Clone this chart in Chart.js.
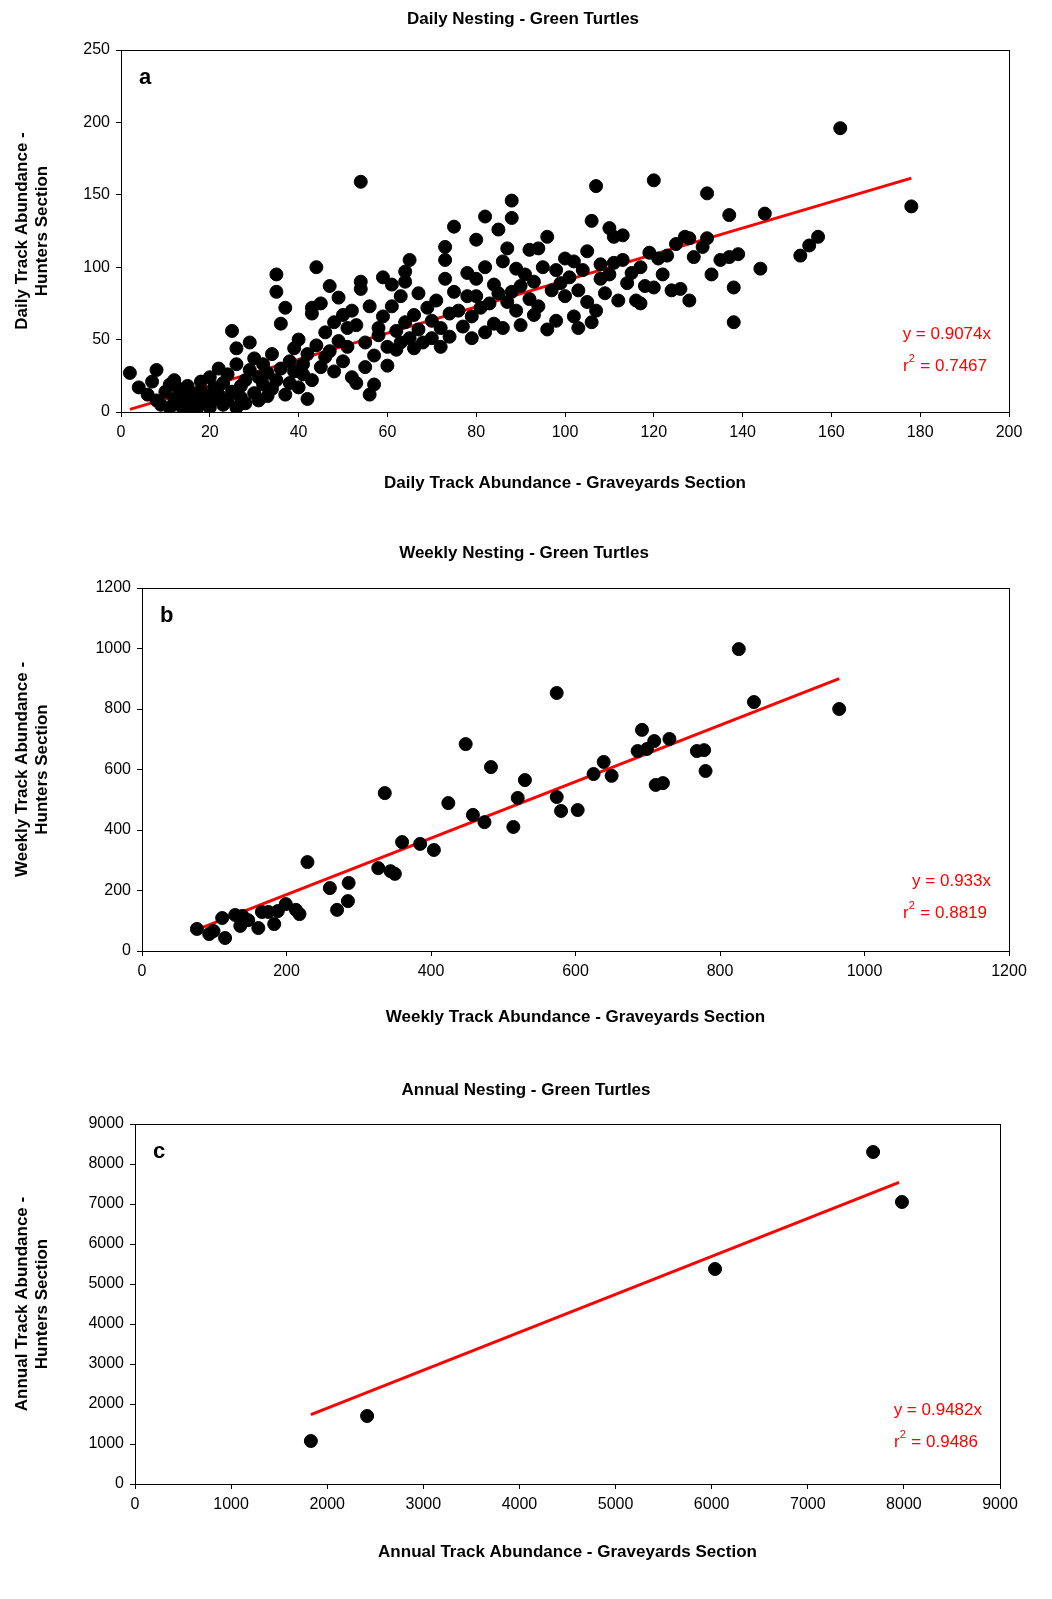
<!DOCTYPE html>
<html>
<head>
<meta charset="utf-8">
<script src="https://cdn.jsdelivr.net/npm/chart.js@4"></script>
<style>
  html, body { margin: 0; background: #fff; overflow: hidden; }
  .wrap { position: absolute; left: 0; width: 1052px; }
</style>
</head>
<body>
<div class="wrap" style="top:0;height:515px"><canvas id="chartA"></canvas></div>
<div class="wrap" style="top:530px;height:515px"><canvas id="chartB"></canvas></div>
<div class="wrap" style="top:1065px;height:534px"><canvas id="chartC"></canvas></div>
<script>
// Daily nesting (panel a): [graveyards, hunters]
const dailyPoints = [
  [2,27],[4,17],[6,12],[7,21],[8,29],[8,8],[9,5],[10,14],[11,19],[11,3],[12,9],[12,22],[13,16],[13,6],[14,11],[14,2],
  [15,18],[15,7],[16,4],[16,13],[17,1],[17,9],[18,15],[18,21],[19,6],[19,11],[20,3],[20,24],[21,17],[21,9],[22,30],[22,12],
  [23,5],[23,20],[24,26],[24,8],[25,56],[25,14],[26,44],[26,33],[26,3],[27,18],[27,10],[28,22],[28,6],[29,48],[29,29],[30,13],
  [30,37],[31,8],[31,24],[32,19],[32,33],[33,27],[33,11],[34,40],[34,16],[35,95],[35,83],[35,22],[36,61],[36,30],[37,72],[37,12],
  [38,35],[38,20],[39,44],[39,28],[40,17],[40,50],[41,33],[41,26],[42,9],[42,40],[43,68],[43,72],[43,22],[44,100],[44,46],[45,31],
  [45,75],[46,38],[46,55],[47,87],[47,42],[48,62],[48,28],[49,49],[49,79],[50,35],[50,67],[51,58],[51,45],[52,24],[52,70],[53,20],
  [53,60],[54,159],[54,90],[54,85],[55,48],[55,31],[56,73],[56,12],[57,39],[57,19],[58,58],[58,53],[59,66],[59,93],[60,45],[60,32],
  [61,73],[61,88],[62,56],[62,43],[63,80],[63,48],[64,97],[64,90],[64,62],[65,51],[65,105],[66,67],[66,44],[67,82],[67,57],[68,48],
  [69,72],[70,63],[70,51],[71,77],[72,45],[72,58],[73,114],[73,105],[73,92],[74,68],[74,52],[75,128],[75,83],[76,70],[77,59],[78,80],
  [78,96],[79,66],[79,51],[80,119],[80,92],[80,80],[81,72],[82,135],[82,55],[82,100],[83,75],[84,61],[84,88],[85,126],[85,82],[86,58],
  [86,104],[87,113],[87,76],[88,146],[88,134],[88,83],[89,70],[89,99],[90,60],[90,87],[91,95],[92,112],[92,78],[93,90],[93,67],[94,113],
  [94,73],[95,100],[96,121],[96,57],[97,84],[98,63],[98,98],[99,89],[100,80],[100,106],[101,93],[102,66],[102,104],[103,84],[103,58],[104,98],
  [105,76],[105,111],[106,132],[106,62],[107,156],[107,70],[108,92],[108,102],[109,82],[110,127],[110,95],[111,121],[111,103],[112,77],[113,122],[113,105],
  [114,89],[115,96],[116,77],[117,75],[117,100],[118,87],[119,110],[120,160],[120,86],[121,106],[122,95],[123,108],[124,84],[125,116],[126,85],[127,121],
  [128,120],[128,77],[129,107],[131,114],[132,151],[132,120],[133,95],[135,105],[137,136],[137,107],[138,86],[138,62],[139,109],[144,99],[145,137],[153,108],
  [155,115],[157,121],[162,196],[178,142]
];
// Weekly nesting (panel b)
const weeklyPoints = [
  [76,73],[93,56],[99,66],[111,109],[115,43],[129,119],[136,83],[139,116],[147,102],[161,76],[166,129],[175,129],[183,89],[188,132],
  [199,155],[213,136],[218,122],[229,294],[260,208],[270,136],[285,165],[286,225],[327,274],[336,522],[344,264],[350,255],[360,360],
  [385,354],[404,334],[424,489],[448,684],[458,450],[474,426],[483,608],[514,410],[520,506],[530,565],[574,853],[574,509],[580,463],
  [603,466],[625,585],[639,625],[650,579],[686,661],[692,731],[699,668],[709,694],[711,549],[721,555],[730,701],[768,661],[778,664],
  [780,595],[826,998],[847,823],[965,800]
];
// Annual nesting (panel c)
const annualGraveyards = [1830, 2415, 6035, 7680, 7980];
const annualHunters = [1075, 1700, 5375, 8300, 7050];

// Fitted lines (through origin) and their x range
const dailyFit = { slope: 0.9074, r2: '0.7467', xFrom: 2, xTo: 178 };
const weeklyFit = { slope: 0.933, r2: '0.8819', xFrom: 76, xTo: 965 };
const annualFit = { slope: 0.9482, r2: '0.9486', xFrom: 1830, xTo: 7950 };

const FONT = 'Arial, "Liberation Sans", sans-serif';

// box around plot + title + panel letter + equation
const decorations = {
  id: 'decorations',
  afterDraw(chart, args, o) {
    const { ctx, chartArea: a } = chart;
    ctx.save();
    ctx.strokeStyle = '#000';
    ctx.lineWidth = 1;
    ctx.strokeRect(a.left + 0.5, a.top + 0.5, a.width, a.height);
    ctx.fillStyle = '#000';
    ctx.textAlign = 'center';
    ctx.textBaseline = 'middle';
    ctx.font = 'bold 17px ' + FONT;
    ctx.fillText(o.title, o.titleX, o.titleY);
    ctx.textAlign = 'left';
    ctx.font = 'bold 22px ' + FONT;
    ctx.fillText(o.letter, a.left + 18, a.top + 28);
    ctx.fillStyle = '#ff0000';
    ctx.textAlign = 'right';
    ctx.font = '17px ' + FONT;
    ctx.fillText('y = ' + o.slope + 'x', a.right - 18, a.bottom - o.eqUp);
    const rText = ' = ' + o.r2;
    const w = ctx.measureText(rText).width;
    ctx.fillText(rText, a.right - 22, a.bottom - o.eqUp + 32);
    ctx.fillText('r', a.right - 22 - w - 7, a.bottom - o.eqUp + 32);
    ctx.font = '11px ' + FONT;
    ctx.textAlign = 'left';
    ctx.fillText('2', a.right - 22 - w - 7, a.bottom - o.eqUp + 25);
    ctx.restore();
  }
};

function makeChart(id, pts, fit, cfg) {
  const fitLine = [
    { x: fit.xFrom, y: fit.slope * fit.xFrom },
    { x: fit.xTo, y: fit.slope * fit.xTo }
  ];
  const axisTick = { color: '#000', font: { family: FONT, size: 16 }, callback: v => String(v) };
  return new Chart(document.getElementById(id), {
    type: 'scatter',
    data: {
      datasets: [
        { data: pts, backgroundColor: '#000', borderColor: '#000', pointRadius: 6.5, pointHoverRadius: 6.5 },
        { type: 'line', data: fitLine, borderColor: '#ff0000', borderWidth: 3, pointRadius: 0, fill: false }
      ]
    },
    options: {
      responsive: true,
      maintainAspectRatio: false,
      animation: false,
      events: [],
      layout: { padding: { top: cfg.top, right: 1052 - cfg.right, left: 12, bottom: cfg.bottomPad } },
      plugins: {
        legend: { display: false },
        tooltip: { enabled: false },
        decorations: { title: cfg.title, titleX: cfg.titleX, titleY: cfg.titleY, letter: cfg.letter, slope: fit.slope, r2: fit.r2, eqUp: cfg.eqUp }
      },
      scales: {
        x: {
          type: 'linear', min: 0, max: cfg.xMax,
          ticks: { ...axisTick, stepSize: cfg.xStep, padding: 6, maxRotation: 0 },
          grid: { drawOnChartArea: false, color: '#000', tickLength: 5 },
          border: { color: '#000' },
          title: { display: true, text: cfg.xTitle, color: '#000', font: { family: FONT, size: 17, weight: 'bold' }, padding: 0 },
          afterFit(s) { s.height = cfg.xAxisH; }
        },
        y: {
          min: 0, max: cfg.yMax,
          ticks: { ...axisTick, stepSize: cfg.yStep, padding: 6 },
          grid: { drawOnChartArea: false, color: '#000', tickLength: 5 },
          border: { color: '#000' },
          title: { display: true, text: cfg.yTitle, color: '#000', font: { family: FONT, size: 17, weight: 'bold' }, padding: 0 },
          afterFit(s) { s.width = cfg.left - 12; }
        }
      }
    },
    plugins: [decorations]
  });
}

makeChart('chartA', dailyPoints.map(p => ({ x: p[0], y: p[1] })), dailyFit, {
  top: 50, left: 121, right: 1009, xAxisH: 82, bottomPad: 21,
  xMax: 200, xStep: 20, yMax: 250, yStep: 50,
  title: 'Daily Nesting - Green Turtles', titleX: 523, titleY: 19, letter: 'a', eqUp: 78,
  xTitle: 'Daily Track Abundance - Graveyards Section',
  yTitle: ['Daily Track Abundance -', 'Hunters Section']
});
makeChart('chartB', weeklyPoints.map(p => ({ x: p[0], y: p[1] })), weeklyFit, {
  top: 58, left: 142, right: 1009, xAxisH: 77, bottomPad: 17,
  xMax: 1200, xStep: 200, yMax: 1200, yStep: 200,
  title: 'Weekly Nesting - Green Turtles', titleX: 524, titleY: 23, letter: 'b', eqUp: 70,
  xTitle: 'Weekly Track Abundance - Graveyards Section',
  yTitle: ['Weekly Track Abundance -', 'Hunters Section']
});
makeChart('chartC', annualGraveyards.map((g, i) => ({ x: g, y: annualHunters[i] })), annualFit, {
  top: 59, left: 135, right: 1000, xAxisH: 79, bottomPad: 36,
  xMax: 9000, xStep: 1000, yMax: 9000, yStep: 1000,
  title: 'Annual Nesting - Green Turtles', titleX: 526, titleY: 25, letter: 'c', eqUp: 74,
  xTitle: 'Annual Track Abundance - Graveyards Section',
  yTitle: ['Annual Track Abundance -', 'Hunters Section']
});
</script>
</body>
</html>
